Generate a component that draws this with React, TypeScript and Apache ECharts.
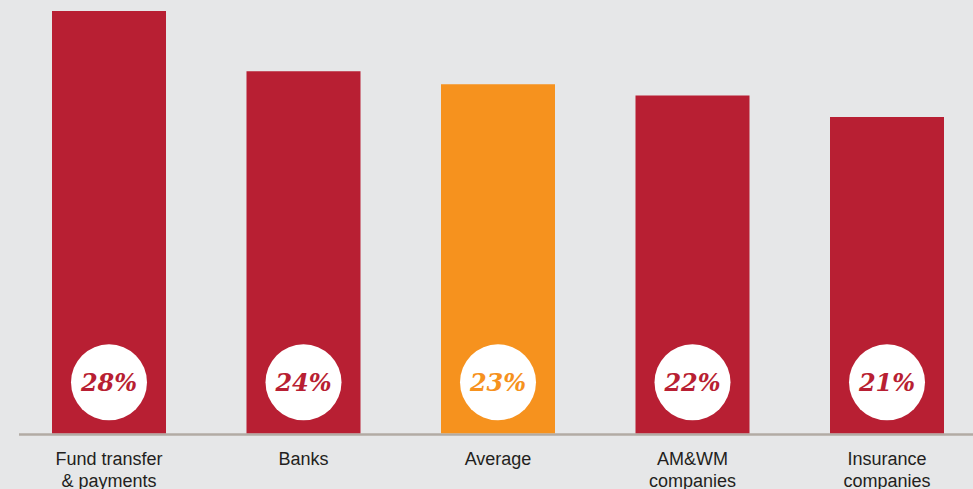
import React, { useEffect, useRef } from "react";
import * as echarts from "echarts";

const categories = ["Fund transfer\n& payments", "Banks", "Average", "AM&WM\ncompanies", "Insurance\ncompanies"];
const values = [28, 24, 23.15, 22.4, 20.97];
const labels = ["28%", "24%", "23%", "22%", "21%"];
const barColors = ["#b81f33", "#b81f33", "#f6921e", "#b81f33", "#b81f33"];

export default function App() {
  const ref = useRef<HTMLDivElement>(null);
  useEffect(() => {
    if (!ref.current) return;
    const chart = echarts.init(ref.current, null, { renderer: "svg" });
    chart.setOption({
      animation: false,
      backgroundColor: "#e6e7e8",
      grid: {
        left: 11.75,
        width: 972.5,
        top: 11,
        bottom: 55.7,
        containLabel: false,
        outerBoundsMode: "none",
      },
      xAxis: {
        type: "category",
        data: categories,
        axisLine: { show: false },
        axisTick: { show: false },
        axisLabel: {
          interval: 0,
          margin: 15,
          color: "#231f20",
          fontSize: 18,
          lineHeight: 22,
          fontFamily: "Liberation Sans, Arial, sans-serif",
        },
      },
      yAxis: { type: "value", min: 0, max: 28, show: false, splitLine: { show: false } },
      graphic: [
        {
          type: "line",
          z: 0,
          shape: { x1: 19, y1: 434.5, x2: 973, y2: 434.5 },
          style: { stroke: "#b2aba4", lineWidth: 2.4 },
        },
      ],
      series: [
        {
          type: "bar",
          barWidth: 114,
          z: 3,
          data: values.map((v, i) => ({
            value: v,
            itemStyle: { color: barColors[i] },
            label: {
              show: true,
              position: "insideBottom",
              distance: 13,
              formatter: "{c|" + labels[i] + "}",
              rich: {
                c: {
                  width: 76,
                  height: 76,
                  lineHeight: 76,
                  align: "center",
                  verticalAlign: "middle",
                  backgroundColor: "#ffffff",
                  borderRadius: 38,
                  color: barColors[i],
                  fontFamily: "DejaVu Serif, serif",
                  fontStyle: "italic",
                  fontWeight: "bold",
                  fontSize: 24,
                },
              },
            },
          })),
        },
      ],
    });
    return () => chart.dispose();
  }, []);
  return <div ref={ref} style={{ position: "fixed", left: 0, top: 0, width: 973, height: 489 }} />;
}
